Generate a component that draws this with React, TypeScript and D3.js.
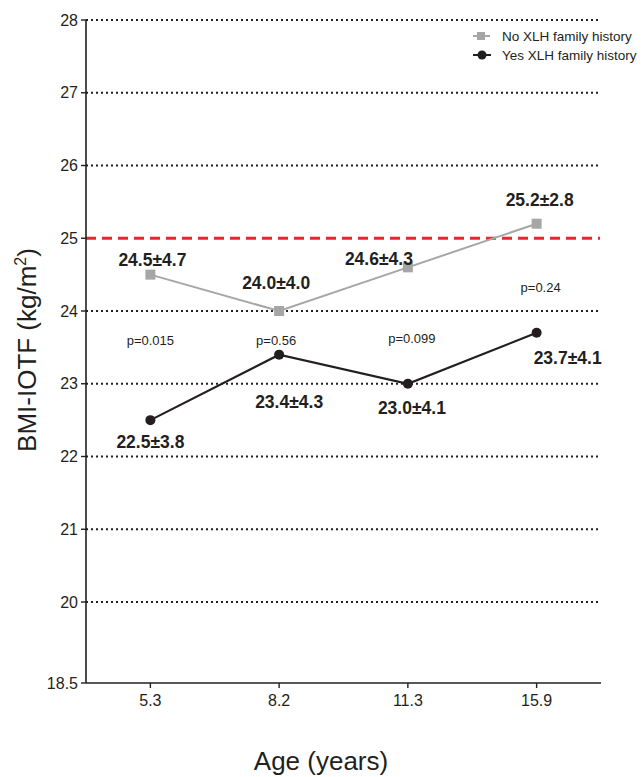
import React from "react";
import * as d3 from "d3";

const ages = ["5.3", "8.2", "11.3", "15.9"];
const noHistory = [24.5, 24.0, 24.6, 25.2];
const yesHistory = [22.5, 23.4, 23.0, 23.7];
const noLabels = ["24.5±4.7", "24.0±4.0", "24.6±4.3", "25.2±2.8"];
const yesLabels = ["22.5±3.8", "23.4±4.3", "23.0±4.1", "23.7±4.1"];
const pValues = ["p=0.015", "p=0.56", "p=0.099", "p=0.24"];
const yTicks = [18.5, 20, 21, 22, 23, 24, 25, 26, 27, 28];
const threshold = 25;

export default function App() {
  const W = 643, H = 777;
  const left = 86, right = 601, top = 20, bottom = 683;
  const x = d3.scalePoint<string>().domain(ages).range([left, right]).padding(0.5);
  const y = d3.scaleLinear().domain([18.5, 20, 28]).range([bottom, 602, top]);
  const line = d3.line<number>().x((_, i) => x(ages[i])!).y((v) => y(v));
  const grey = "#a6a6a6";
  const black = "#231f20";
  const font = "Arial, 'Liberation Sans', Helvetica, sans-serif";

  // label offsets (relative to points)
  const noOff = [[2, -15], [-3, -28], [-29, -8], [3, -24]];
  const yesOff = [[0, 22], [10, 47], [4, 24], [31, 25]];
  const pPos: [number, number][] = [[0, 340], [-3, 340], [4, 338], [4, 287]];

  return (
    <svg width={W} height={H} style={{ position: "absolute", left: 0, top: 0, background: "#fff" }} fontFamily={font}>
      {/* gridlines */}
      {yTicks.filter((t) => t !== 18.5 && t !== threshold).map((t) => (
        <line key={t} x1={left} x2={right - 1} y1={y(t)} y2={y(t)} stroke={black} strokeWidth={2} strokeDasharray="2,3" />
      ))}
      {/* threshold */}
      <line x1={left} x2={right - 1} y1={y(threshold)} y2={y(threshold)} stroke="#e8262b" strokeWidth={3.2} strokeDasharray="10,6" />
      {/* axes */}
      <line x1={left} x2={left} y1={top} y2={bottom} stroke={black} strokeWidth={1.6} />
      <line x1={left} x2={right} y1={bottom} y2={bottom} stroke={black} strokeWidth={1.6} />
      {yTicks.map((t) => (
        <g key={t}>
          <line x1={left - 5} x2={left} y1={y(t)} y2={y(t)} stroke={black} strokeWidth={1.4} />
          <text x={left - 8} y={y(t)} dy="0.35em" textAnchor="end" fontSize={16} fill={black}>{t}</text>
        </g>
      ))}
      {ages.map((a) => (
        <g key={a}>
          <line x1={x(a)} x2={x(a)} y1={bottom} y2={bottom + 5} stroke={black} strokeWidth={1.4} />
          <text x={x(a)} y={bottom + 23} textAnchor="middle" fontSize={16} fill={black}>{a}</text>
        </g>
      ))}
      <text x={321} y={770} textAnchor="middle" fontSize={26} fill={black}>Age (years)</text>
      <text transform={`translate(36,${350}) rotate(-90)`} textAnchor="middle" fontSize={26} fill={black}>
        BMI-IOTF (kg/m<tspan dy={-10} fontSize={16}>2</tspan><tspan dy={10}>)</tspan>
      </text>
      {/* lines */}
      <path d={line(noHistory)!} fill="none" stroke={grey} strokeWidth={2} />
      <path d={line(yesHistory)!} fill="none" stroke={black} strokeWidth={2.2} />
      {noHistory.map((v, i) => (
        <rect key={i} x={x(ages[i])! - 5} y={y(v) - 5} width={10} height={10} fill={grey} />
      ))}
      {yesHistory.map((v, i) => (
        <circle key={i} cx={x(ages[i])} cy={y(v)} r={5} fill={black} />
      ))}
      {/* value labels */}
      {noLabels.map((l, i) => (
        <text key={l} x={x(ages[i])! + noOff[i][0]} y={y(noHistory[i]) + noOff[i][1]} dy="0.35em" textAnchor="middle" fontSize={17.5} fontWeight="bold" fill={black}>{l}</text>
      ))}
      {yesLabels.map((l, i) => (
        <text key={l} x={x(ages[i])! + yesOff[i][0]} y={y(yesHistory[i]) + yesOff[i][1]} dy="0.35em" textAnchor="middle" fontSize={17.5} fontWeight="bold" fill={black}>{l}</text>
      ))}
      {pValues.map((p, i) => (
        <text key={p} x={x(ages[i])! + pPos[i][0]} y={pPos[i][1]} dy="0.35em" textAnchor="middle" fontSize={13} fill={black}>{p}</text>
      ))}
      {/* legend */}
      <g>
        <line x1={473} x2={490} y1={36} y2={36} stroke={grey} strokeWidth={2} />
        <rect x={477} y={32} width={8} height={8} fill={grey} />
        <text x={502} y={36} dy="0.35em" fontSize={13.5} fill={black}>No XLH family history</text>
        <line x1={473} x2={491} y1={55} y2={55} stroke={black} strokeWidth={2} />
        <circle cx={482} cy={55} r={4.5} fill={black} />
        <text x={502} y={55} dy="0.35em" fontSize={13.5} fill={black}>Yes XLH family history</text>
      </g>
    </svg>
  );
}
